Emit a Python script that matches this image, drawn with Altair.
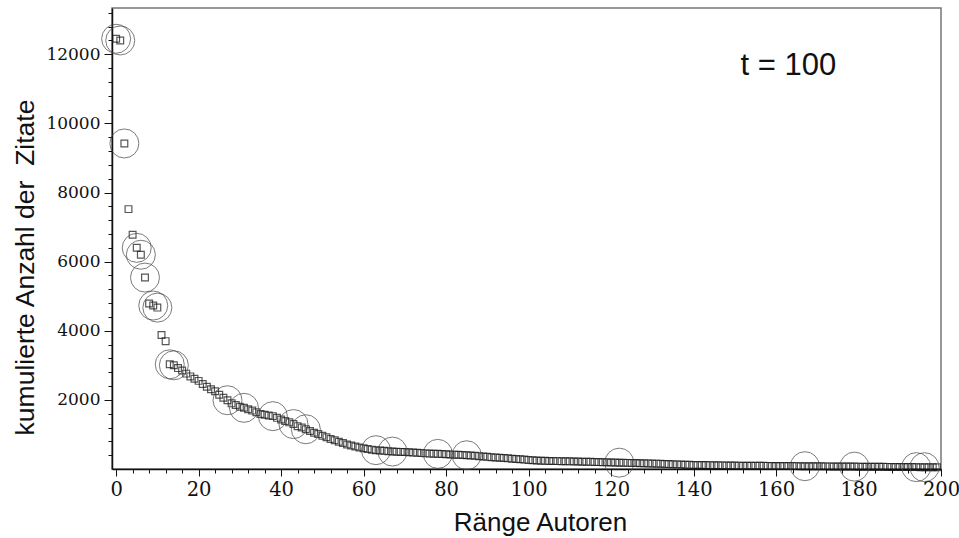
import altair as alt
import pandas as pd

# ---- data ----
ranks = list(range(200))
citations = [
    12450, 12400, 9420, 7520, 6780, 6400, 6200, 5540, 4790, 4730,
    4670, 3880, 3700, 3030, 3000, 2920, 2850, 2760, 2680, 2610,
    2550, 2460, 2380, 2310, 2250, 2150, 2060, 1990, 1900, 1850,
    1800, 1770, 1730, 1690, 1640, 1590, 1570, 1550, 1530, 1480,
    1430, 1390, 1350, 1300, 1240, 1200, 1150, 1100, 1050, 1010,
    960, 920, 870, 830, 790, 750, 710, 680, 650, 620,
    600, 580, 560, 545, 535, 525, 515, 505, 500, 495,
    490, 485, 475, 468, 460, 452, 446, 442, 438, 432,
    426, 420, 415, 410, 405, 398, 390, 382, 372, 362,
    352, 342, 334, 326, 318, 308, 298, 288, 280, 272,
    262, 252, 245, 240, 236, 233, 230, 228, 226, 224,
    221, 218, 215, 212, 210, 207, 204, 200, 196, 193,
    190, 186, 183, 180, 177, 175, 172, 168, 165, 162,
    158, 155, 150, 146, 142, 138, 134, 130, 125, 120,
    118, 116, 115, 113, 111, 109, 107, 105, 103, 100,
    98, 97, 96, 95, 94, 93, 92, 91, 90, 89,
    88, 87, 86, 85, 84, 83, 82, 81, 80, 79,
    78, 77, 76, 75, 74, 73, 72, 71, 70, 69,
    68, 67, 66, 65, 64, 63, 62, 61, 60, 59,
    58, 57, 56, 55, 54, 53, 52, 51, 50, 50,
]
circled_ranks = [0, 1, 2, 5, 6, 7, 9, 10, 13, 14, 27, 31, 38, 43, 46,
                 63, 67, 78, 85, 122, 167, 179, 194, 196]

x_major = list(range(0, 201, 20))
x_minor = list(range(0, 201, 4))
y_major = list(range(2000, 12001, 2000))
y_minor = list(range(400, 13340, 400))

annot_text = ["t = 100"]
annot_x = [163]
annot_y = [11650]

x_title = "Ränge Autoren"
y_title = "kumulierte Anzahl der\u00a0 Zitate"

# ---- tables ----
df = pd.DataFrame({"rank": ranks, "cit": citations})
dfc = pd.DataFrame({"rank": circled_ranks,
                    "cit": [citations[r] for r in circled_ranks]})
dfa = pd.DataFrame({"ax": annot_x, "ay": annot_y, "label": annot_text})

xscale = alt.Scale(domain=[-1, 200], nice=False, zero=False)
yscale = alt.Scale(domain=[0, 13340], nice=False, zero=False)

x_axis_major = alt.Axis(
    orient="bottom", values=x_major, format="d", tickSize=7, tickColor="#111",
    tickWidth=1, domainColor="#111", domainWidth=1.5, grid=False,
    labelFont="DejaVu Serif", labelFontSize=19.5,
    labelColor="#111", labelPadding=4, labelFlush=False,
    title=x_title, titleFont="Liberation Sans", titleFontSize=26,
    titleFontWeight="normal", titleColor="#111",
    titleX=428, titleY=61, titleBaseline="alphabetic", titleAlign="center",
)
y_axis_major = alt.Axis(
    orient="left", values=y_major, format="d", tickSize=8, tickColor="#111",
    tickWidth=1, domainColor="#111", domainWidth=1.5, grid=False,
    labelFont="DejaVu Serif", labelFontSize=17, labelColor="#111",
    labelPadding=4,
    title=y_title, titleFont="Liberation Sans", titleFontSize=26.5,
    titleFontWeight="normal", titleColor="#111", titleAngle=270,
    titleX=-79, titleY=259, titleBaseline="alphabetic", titleAlign="center",
)
x_axis_minor = alt.Axis(orient="bottom", values=x_minor, tickSize=4,
                        tickColor="#111", labels=False, domain=False,
                        grid=False, title=None)
y_axis_minor = alt.Axis(orient="left", values=y_minor, tickSize=4,
                        tickColor="#111", labels=False, domain=False,
                        grid=False, title=None)

squares = alt.Chart(df).mark_point(
    shape="square", size=46, filled=False, color="#111", strokeWidth=1.2
).encode(
    x=alt.X("rank:Q", scale=xscale, axis=x_axis_major),
    y=alt.Y("cit:Q", scale=yscale, axis=y_axis_major),
)

circles = alt.Chart(dfc).mark_point(
    shape="circle", size=841, filled=False, color="#444", strokeWidth=1
).encode(
    x=alt.X("rank:Q", scale=xscale, axis=x_axis_minor),
    y=alt.Y("cit:Q", scale=yscale, axis=y_axis_minor),
)

annot = alt.Chart(dfa).mark_text(
    font="Liberation Sans", fontSize=31, color="#111", align="center",
    baseline="middle"
).encode(
    x=alt.X("ax:Q", scale=xscale, axis=None),
    y=alt.Y("ay:Q", scale=yscale, axis=None),
    text="label:N",
)

chart = alt.layer(squares, circles, annot).resolve_axis(
    x="independent", y="independent"
).properties(
    width=829, height=461,
    padding={"left": 112, "top": 8, "right": 18, "bottom": 69},
    autosize=alt.AutoSizeParams(type="none"),
    background="white",
).configure_view(
    stroke="#777", strokeWidth=1.5
)

chart.save("out.html", embed_options={"renderer": "svg", "actions": False})
